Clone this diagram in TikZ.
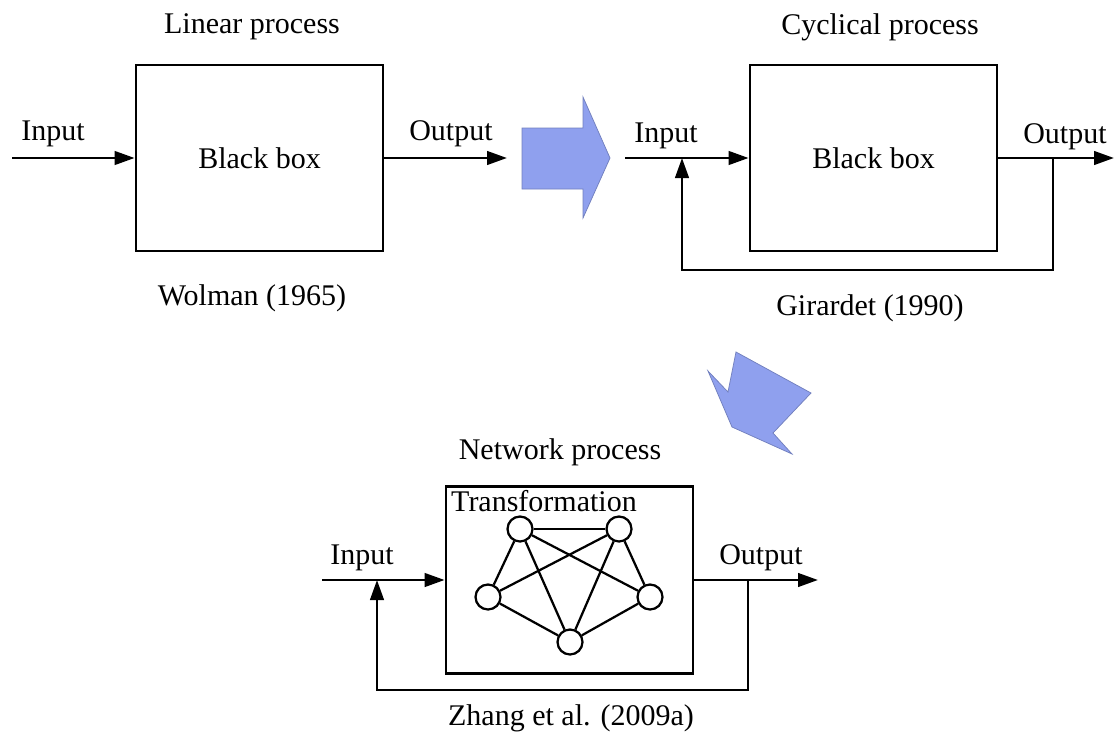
\documentclass[tikz,border=0pt]{standalone}
\usepackage{fontspec}
\setmainfont{Liberation Serif}
\usetikzlibrary{arrows.meta, positioning}
\definecolor{arrowblue}{RGB}{143,160,238}

\begin{document}
\begin{tikzpicture}[
        x=0.4pt, y=-0.4pt,
        font=\fontsize{12}{14}\selectfont,
        box/.style={draw, line width=1.1pt, minimum width=98.8pt, minimum height=74.4pt, inner sep=0pt},
        flow/.style={line width=1.1pt, -{Triangle[length=8pt, width=5.4pt]}},
        line/.style={line width=1.1pt},
        proc/.style={circle, draw, line width=0.9pt, minimum size=10pt, inner sep=0pt},
        link/.style={line width=0.9pt},
        bigarrow/.style={fill=arrowblue, draw=arrowblue!80!black, line width=0.3pt}
    ]
        \useasboundingbox (0,0) rectangle (1115,740);

        % linear process
        \node (title1) at (252,27) {Linear process};
        \node[box] (box1) at (259.5,158) {Black box};
        \coordinate (in1) at (12,158);
        \coordinate (out1) at (507,158);
        \node (lin1) at (53,134) {Input};
        \node (lout1) at (451,134) {Output};
        \node (ref1) at (252,298) {Wolman (1965)};
        \draw[flow] (in1) -- (box1);
        \draw[flow] (box1) -- (out1);

        \draw[bigarrow] (522,128) -- (583,128) -- (583,97) -- (610,158)
            -- (583,218) -- (583,189) -- (522,189) -- cycle;

        % cyclical process
        \node (title2) at (880,27) {Cyclical process};
        \node[box] (box2) at (873.5,158) {Black box};
        \coordinate (in2) at (625,158);
        \coordinate (j2) at (682,158);
        \coordinate (k2) at (1053,158);
        \coordinate (fb2) at (682,270);
        \coordinate (out2) at (1114,158);
        \node (lin2) at (666,136) {Input};
        \node (lout2) at (1065,137) {Output};
        \node (ref2) at (870,308) {Girardet (1990)};
        \draw[flow] (in2) -- (box2);
        \draw[flow] (box2) -- (out2);
        \draw[flow] (k2) |- (fb2) -- (j2);

        \draw[bigarrow] (736,352) -- (811,393) -- (773,433) -- (792,454)
            -- (732,427) -- (708,371) -- (728,392) -- cycle;

        % network process
        \node (title3) at (560,452) {Network process};
        \node[box, minimum height=75pt] (box3) at (569.5,580) {};
        \node (trans) at (544,501) {Transformation};
        \node[proc] (n1) at (520,529) {};
        \node[proc] (n2) at (619,529) {};
        \node[proc] (n3) at (488,597) {};
        \node[proc] (n4) at (650,597) {};
        \node[proc] (n5) at (570,642) {};
        \foreach \a/\b in {n1/n2, n1/n3, n1/n4, n1/n5, n2/n3, n2/n4, n2/n5, n3/n5, n4/n5}
            \draw[link] (\a) -- (\b);
        \coordinate (in3) at (322,580);
        \coordinate (j3) at (377,580);
        \coordinate (k3) at (748,580);
        \coordinate (fb3) at (377,690);
        \coordinate (out3) at (818,580);
        \node (lin3) at (362,558) {Input};
        \node (lout3) at (761,558) {Output};
        \node (ref3) at (571,718) {Zhang et al. (2009a)};
        \draw[flow] (in3) -- (box3);
        \draw[flow] (box3) -- (out3);
        \draw[flow] (k3) |- (fb3) -- (j3);
    \end{tikzpicture}
\end{document}
